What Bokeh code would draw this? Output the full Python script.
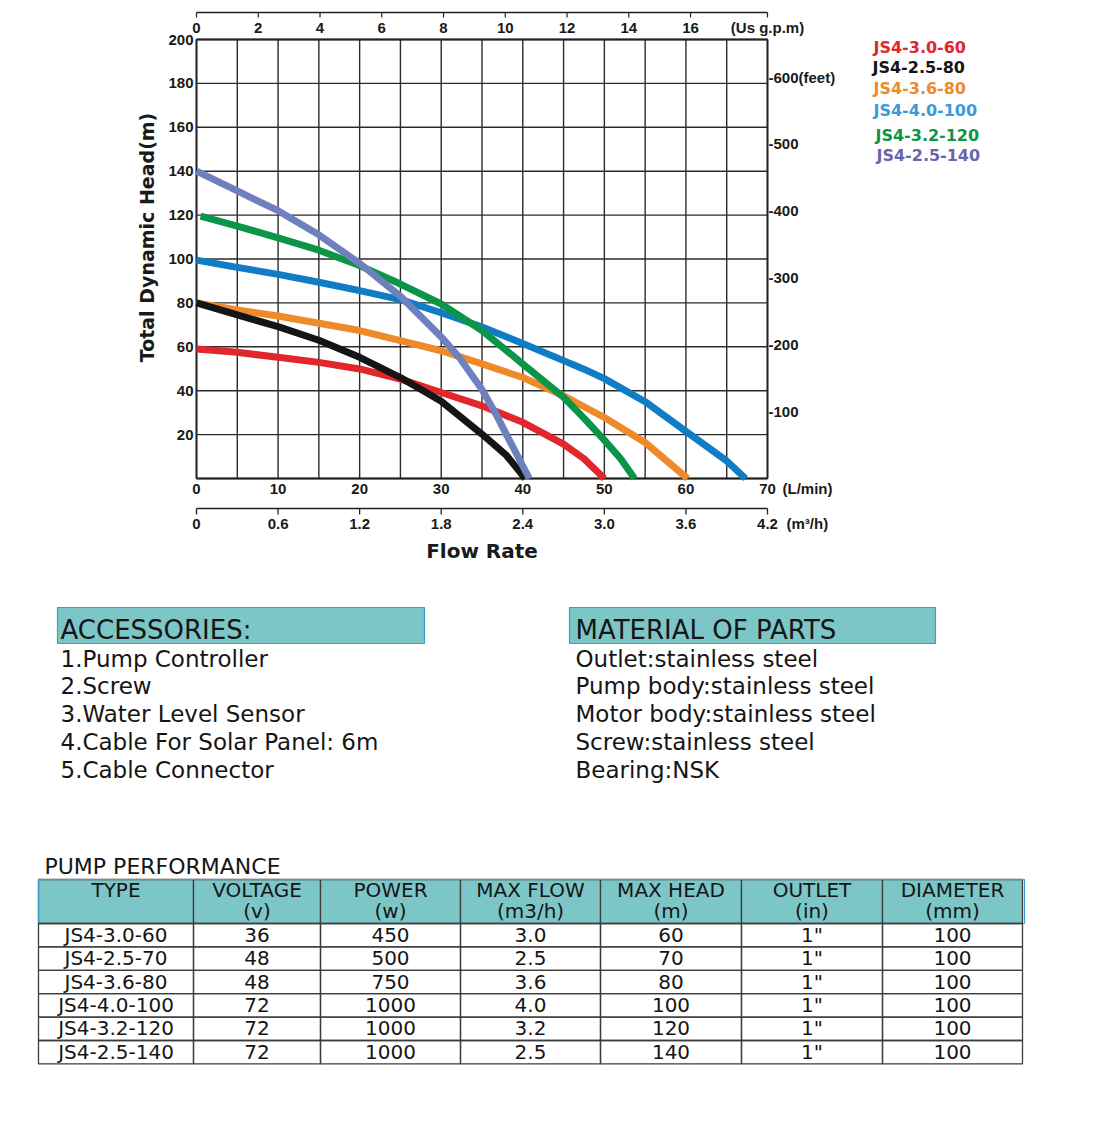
import math
from bokeh.plotting import figure
from bokeh.models import Range1d
from bokeh.embed import file_html
from bokeh.resources import INLINE
from bokeh.core.properties import value

# ---------------- data ----------------
series_names = ["JS4-3.0-60", "JS4-2.5-80", "JS4-3.6-80",
                "JS4-4.0-100", "JS4-3.2-120", "JS4-2.5-140"]
curve_colors = ["#e1262c", "#151515", "#ef8a2a", "#0f7cc4", "#0a9548", "#6f80bf"]
legend_colors = ["#e1262c", "#151515", "#ee8a2c", "#3b9ad8", "#0a9548", "#6b64ab"]

flow_3_0_60 = [0, 5, 10, 15, 20, 25, 30, 35, 40, 45, 47.5, 50]
head_3_0_60 = [59, 57.5, 55.2, 52.9, 49.9, 45.3, 39.2, 33.1, 25.6, 15.7, 9, 0]
flow_2_5_80 = [0, 5, 10, 15, 20, 25, 30, 35, 38, 40.3]
head_2_5_80 = [80, 74.5, 69.2, 63, 55.2, 46, 35.2, 20.2, 10.5, 0]
flow_3_6_80 = [0, 5, 10, 15, 20, 25, 30, 35, 40, 45, 50, 55, 60.2]
head_3_6_80 = [80, 76.8, 74, 70.7, 67.4, 62.8, 58.2, 52.2, 46, 37.7, 27.8, 16.4, 0]
flow_4_0_100 = [0, 5, 10, 15, 20, 25, 30, 35, 40, 45, 47.5, 50, 55, 60, 65, 67.3]
head_4_0_100 = [99.5, 96.2, 93, 89.4, 85.6, 81.5, 75.5, 69, 61.5, 53.7, 49.8, 45.5, 35, 21.5, 8, 0]
flow_3_2_120 = [0.5, 5, 10, 15, 20, 25, 30, 35, 40, 45, 47.5, 50, 52, 53.7]
head_3_2_120 = [119.5, 115, 109.6, 104, 97, 88.6, 79.5, 67.4, 52.2, 37, 27.5, 17.5, 9, 0]
flow_2_5_140 = [0, 5, 10, 15, 20, 25, 30, 32.2, 35, 36.7, 38, 40.8]
head_2_5_140 = [140, 131, 122, 111, 98, 83, 64.5, 55.2, 40.5, 29.4, 20, 0]

lpm_ticks = [0, 10, 20, 30, 40, 50, 60, 70]
m3h_ticks = [0, 0.6, 1.2, 1.8, 2.4, 3.0, 3.6, 4.2]
m3h_labels = ["0", "0.6", "1.2", "1.8", "2.4", "3.0", "3.6", "4.2"]
gpm_ticks = [0, 2, 4, 6, 8, 10, 12, 14, 16]
head_ticks = [20, 40, 60, 80, 100, 120, 140, 160, 180, 200]
feet_ticks = [100, 200, 300, 400, 500, 600]
feet_labels = ["-100", "-200", "-300", "-400", "-500", "-600(feet)"]

accessories = ["1.Pump Controller", "2.Screw", "3.Water Level Sensor",
               "4.Cable For Solar Panel: 6m", "5.Cable Connector"]
materials = ["Outlet:stainless steel", "Pump body:stainless steel",
             "Motor body:stainless steel", "Screw:stainless steel", "Bearing:NSK"]

table_head1 = ["TYPE", "VOLTAGE", "POWER", "MAX FLOW", "MAX HEAD", "OUTLET", "DIAMETER"]
table_head2 = ["", "(v)", "(w)", "(m3/h)", "(m)", "(in)", "(mm)"]
tbl_type = ["JS4-3.0-60", "JS4-2.5-70", "JS4-3.6-80", "JS4-4.0-100", "JS4-3.2-120", "JS4-2.5-140"]
tbl_voltage = ["36", "48", "48", "72", "72", "72"]
tbl_power = ["450", "500", "750", "1000", "1000", "1000"]
tbl_maxflow = ["3.0", "2.5", "3.6", "4.0", "3.2", "2.5"]
tbl_maxhead = ["60", "70", "80", "100", "120", "140"]
tbl_outlet = ['1"', '1"', '1"', '1"', '1"', '1"']
tbl_diameter = ["100", "100", "100", "100", "100", "100"]

# unit conversions for the secondary scales
LPM_PER_GPM = 3.785411784
LPM_PER_M3H = 1000.0 / 60.0
M_PER_FT = 0.3048
X_MAX, Y_MAX = 70, 200

# ---------------- layout constants ----------------
W = 1115
CH = 570
FR_L, FR_R, FR_T, FR_B = 196, 767, 39, 478
PXX = (FR_R - FR_L) / X_MAX
PXY = (FR_B - FR_T) / Y_MAX
TICK_FONT = value("Liberation Sans")
BOLD_WIDE = value("DejaVu Sans")
INK = "#1a1a1a"
GRIDC = "#2a2a2a"
TEAL = "#7cc6c7"


def X(px):
    return (px - FR_L) / PXX


def Y(py):
    return (FR_B - py) / PXY


# ---------------- chart ----------------
p = figure(width=W, height=CH, x_range=Range1d(X(0), X(W)), y_range=Range1d(Y(CH), Y(0)),
           x_axis_location=None, y_axis_location=None, output_backend="svg",
           toolbar_location=None, min_border=0, min_border_left=0, min_border_right=0,
           min_border_top=0, min_border_bottom=0)
p.grid.grid_line_color = None
p.outline_line_color = None
p.background_fill_color = "white"
p.border_fill_color = "white"

# grid
gx = list(range(0, X_MAX + 1, 5))
gy = list(range(0, Y_MAX + 1, 20))
p.segment(x0=gx, y0=[0] * len(gx), x1=gx, y1=[Y_MAX] * len(gx), line_color=GRIDC,
          line_width=1.4)
p.segment(x0=[0] * len(gy), y0=gy, x1=[X_MAX] * len(gy), y1=gy, line_color=GRIDC,
          line_width=1.4)
p.segment(x0=[0, X_MAX, 0, 0], y0=[0, 0, 0, Y_MAX], x1=[0, X_MAX, X_MAX, X_MAX],
          y1=[Y_MAX, Y_MAX, 0, Y_MAX], line_color="#222222", line_width=1.8)

# curves
curves = [(flow_3_0_60, head_3_0_60, 0), (flow_3_6_80, head_3_6_80, 2),
          (flow_4_0_100, head_4_0_100, 3), (flow_3_2_120, head_3_2_120, 4),
          (flow_2_5_80, head_2_5_80, 1), (flow_2_5_140, head_2_5_140, 5)]
for fx, hy, idx in curves:
    p.line(fx, hy, line_color=curve_colors[idx], line_width=7, line_cap="butt",
           line_join="round")

tick_style = dict(text_font=TICK_FONT, text_font_style="bold", text_font_size=value("15px"),
                  text_color=INK, text_baseline="middle")

# left axis labels (m)
p.text(x=[X(FR_L - 3)] * len(head_ticks), y=head_ticks, text=[str(t) for t in head_ticks],
       text_align="right", **tick_style)

# right axis labels (feet)
p.text(x=[X(FR_R + 1)] * len(feet_ticks), y=[f * M_PER_FT for f in feet_ticks],
       text=feet_labels, text_align="left", **tick_style)

# bottom axis (L/min)
p.text(x=lpm_ticks, y=[Y(488)] * len(lpm_ticks), text=[str(t) for t in lpm_ticks],
       text_align="center", **tick_style)
p.text(x=[X(782)], y=[Y(488)], text=["(L/min)"], text_align="left", **tick_style)

# bottom axis (m3/h)
m3h_pos = [m * LPM_PER_M3H for m in m3h_ticks]
p.segment(x0=[0], y0=[Y(508)], x1=[X_MAX], y1=[Y(508)], line_color="#222222", line_width=1.3)
p.segment(x0=m3h_pos, y0=[Y(508)] * len(m3h_pos), x1=m3h_pos, y1=[Y(514)] * len(m3h_pos),
          line_color="#222222", line_width=1.3)
p.text(x=m3h_pos, y=[Y(523)] * len(m3h_pos), text=m3h_labels, text_align="center",
       **tick_style)
p.text(x=[X(786)], y=[Y(523)], text=["(m\u00b3/h)"], text_align="left", **tick_style)
p.text(x=[X_MAX / 2], y=[Y(550)], text=["Flow Rate"], text_font=BOLD_WIDE,
       text_font_style="bold", text_font_size=value("20px"), text_color=INK,
       text_align="center", text_baseline="middle")

# top axis (US gpm)
gpm_pos = [g * LPM_PER_GPM for g in gpm_ticks] + [X_MAX]
p.segment(x0=[0], y0=[Y(12)], x1=[X_MAX], y1=[Y(12)], line_color="#222222", line_width=1.3)
p.segment(x0=gpm_pos, y0=[Y(12)] * len(gpm_pos), x1=gpm_pos, y1=[Y(17)] * len(gpm_pos),
          line_color="#222222", line_width=1.2)
p.text(x=gpm_pos, y=[Y(27)] * len(gpm_pos), text=[str(g) for g in gpm_ticks] + ["(Us g.p.m)"],
       text_align="center", **tick_style)

# y title
p.text(x=[X(146)], y=[Y(237)], text=["Total Dynamic Head(m)"], angle=math.pi / 2,
       text_font=BOLD_WIDE, text_font_style="bold", text_font_size=value("19px"),
       text_color=INK, text_align="center", text_baseline="middle")

# legend
legend_px_x = [873, 872, 873, 873, 875, 876]
legend_px_y = [46.5, 66.5, 87.5, 110, 135, 155]
p.text(x=[X(v) for v in legend_px_x], y=[Y(v) for v in legend_px_y], text=series_names,
       text_color=legend_colors, text_font=BOLD_WIDE, text_font_style="bold",
       text_font_size=value("16px"), text_align="left", text_baseline="middle")

# ---------------- lower part ----------------
BH = 1133 - CH
q = figure(width=W, height=BH, x_range=Range1d(0, W), y_range=Range1d(1133, CH),
           x_axis_location=None, y_axis_location=None, output_backend="svg",
           toolbar_location=None, min_border=0, min_border_left=0, min_border_right=0,
           min_border_top=0, min_border_bottom=0)
q.grid.grid_line_color = None
q.outline_line_color = None
q.background_fill_color = "white"
q.border_fill_color = "white"

txt = dict(text_font=BOLD_WIDE, text_color="#151515", text_baseline="middle")

# section header boxes
q.quad(left=[57, 569], right=[424, 935], top=[607, 607], bottom=[643, 643],
       fill_color=TEAL, line_color="#3a9fd0", line_width=1.2)
q.text(x=[60, 575], y=[629, 629], text=["ACCESSORIES:", "MATERIAL OF PARTS"],
       text_font_size=value("26px"), text_align="left", **txt)
item_y = [658, 685.5, 713.5, 741, 769]
q.text(x=[60] * len(accessories), y=item_y, text=accessories,
       text_font_size=value("23px"), text_align="left", **txt)
q.text(x=[575] * len(materials), y=item_y, text=materials,
       text_font_size=value("23px"), text_align="left", **txt)

# table
q.text(x=[44], y=[866], text=["PUMP PERFORMANCE"], text_font_size=value("22px"),
       text_align="left", **txt)
col_edges = [38, 193, 320, 460, 600, 741, 882, 1022]
hdr_top, hdr_bot = 879, 923
row_h = 23.4
lefts = col_edges[:-1]
rights = col_edges[1:]
centers = [(a + b) / 2 for a, b in zip(lefts, rights)]
q.quad(left=lefts, right=rights, top=[hdr_top] * 7, bottom=[hdr_bot] * 7,
       fill_color=TEAL, line_color="#3c3c3c", line_width=1.3)
q.quad(left=[col_edges[0]], right=[col_edges[-1] + 2], top=[hdr_top], bottom=[hdr_bot],
       fill_color=None, line_color="#3a9fd0", line_width=1.2)
q.text(x=centers, y=[889.5] * 7, text=table_head1, text_font_size=value("20px"),
       text_align="center", **txt)
q.text(x=centers[1:], y=[910] * 6, text=table_head2[1:], text_font_size=value("20px"),
       text_align="center", **txt)

columns = [tbl_type, tbl_voltage, tbl_power, tbl_maxflow, tbl_maxhead, tbl_outlet, tbl_diameter]
cl, cr, ct, cb = [], [], [], []
tx, ty, tt = [], [], []
for r in range(len(tbl_type)):
    top = hdr_bot + r * row_h
    bot = top + row_h
    for c in range(7):
        cl.append(lefts[c]); cr.append(rights[c]); ct.append(top); cb.append(bot)
        tx.append(centers[c]); ty.append(top + row_h / 2 - 0.5); tt.append(columns[c][r])
q.quad(left=cl, right=cr, top=ct, bottom=cb, fill_color=None, line_color="#3c3c3c",
       line_width=1.3)
q.text(x=tx, y=ty, text=tt, text_font_size=value("20px"), text_align="center", **txt)

open("out.html", "w").write(file_html([p, q], INLINE))
